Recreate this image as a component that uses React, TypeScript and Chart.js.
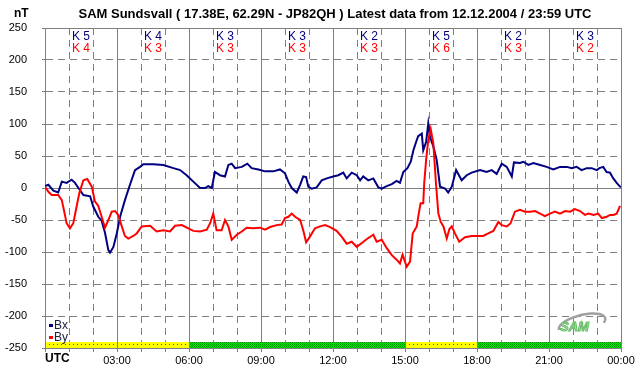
import React, { useEffect, useRef } from "react";
import { Chart, registerables } from "chart.js";

Chart.register(...registerables);

const TITLE = "SAM Sundsvall ( 17.38E, 62.29N - JP82QH ) Latest data from 12.12.2004 / 23:59 UTC";

const bxHours = [0, 0.14, 0.35, 0.55, 0.7, 0.9, 1.11, 1.25, 1.43, 1.6, 1.88, 2.01, 2.22, 2.36, 2.5, 2.64, 2.71, 2.85, 2.99, 3.13, 3.33, 3.54, 3.75, 3.96, 4.1, 4.51, 4.93, 5.35, 5.63, 5.9, 6.18, 6.46, 6.67, 6.8, 6.95, 7.08, 7.29, 7.5, 7.64, 7.78, 7.92, 8.2, 8.43, 8.61, 8.89, 9.17, 9.51, 9.79, 10.0, 10.14, 10.28, 10.49, 10.63, 10.76, 10.88, 10.97, 11.11, 11.32, 11.53, 11.74, 12.01, 12.22, 12.43, 12.57, 12.78, 12.99, 13.13, 13.26, 13.47, 13.68, 13.89, 14.03, 14.24, 14.45, 14.65, 14.79, 14.93, 15.1, 15.24, 15.35, 15.49, 15.55, 15.7, 15.76, 15.88, 15.97, 16.04, 16.18, 16.32, 16.46, 16.67, 16.8, 16.95, 17.13, 17.36, 17.57, 17.78, 18.13, 18.4, 18.61, 18.82, 19.03, 19.24, 19.45, 19.54, 19.79, 19.93, 20.14, 20.35, 20.63, 20.9, 21.18, 21.46, 21.74, 21.95, 22.15, 22.36, 22.57, 22.78, 22.99, 23.1, 23.26, 23.4, 23.54, 23.68, 23.82, 23.99];
const bxValues = [3, 5, -4, -7, 10, 8, 13, 8, -2, -11, -13, -29, -45, -51, -70, -97, -101, -92, -71, -45, -19, 5, 28, 33, 37, 37, 36, 31, 28, 20, 10, 0, 0, 3, 0, 25, 20, 18, 36, 38, 31, 33, 38, 31, 29, 26, 26, 29, 23, 10, 0, -7, 5, 18, 17, 2, -1, 1, 12, 15, 18, 20, 24, 15, 24, 20, 12, 18, 12, 15, 1, -1, 3, 6, 11, 8, 25, 31, 41, 59, 75, 81, 85, 59, 72, 101, 80, 65, 44, 2, -1, -7, 2, 28, 12, 20, 24, 28, 25, 28, 22, 38, 33, 18, 40, 39, 41, 36, 39, 36, 33, 29, 33, 33, 31, 33, 28, 31, 31, 28, 31, 33, 25, 24, 15, 8, 1];

const byHours = [0, 0.14, 0.28, 0.55, 0.7, 0.83, 0.9, 1.04, 1.18, 1.29, 1.43, 1.6, 1.76, 1.95, 2.08, 2.22, 2.36, 2.5, 2.64, 2.78, 2.92, 3.05, 3.2, 3.33, 3.47, 3.68, 3.82, 4.03, 4.38, 4.65, 4.93, 5.21, 5.42, 5.7, 5.97, 6.18, 6.46, 6.74, 6.88, 7.01, 7.15, 7.36, 7.5, 7.64, 7.78, 7.99, 8.2, 8.4, 8.68, 8.96, 9.17, 9.38, 9.65, 9.86, 10.0, 10.14, 10.28, 10.42, 10.63, 10.76, 10.88, 11.04, 11.25, 11.46, 11.67, 11.88, 12.15, 12.36, 12.57, 12.78, 12.99, 13.2, 13.4, 13.68, 13.82, 14.03, 14.24, 14.45, 14.65, 14.79, 14.9, 15.07, 15.21, 15.32, 15.49, 15.55, 15.65, 15.76, 15.8, 15.88, 15.97, 16.07, 16.18, 16.29, 16.39, 16.49, 16.6, 16.74, 16.85, 16.95, 17.08, 17.26, 17.5, 17.78, 18.26, 18.47, 18.68, 18.89, 19.03, 19.24, 19.4, 19.58, 19.79, 20.0, 20.21, 20.42, 20.63, 20.83, 21.04, 21.25, 21.46, 21.67, 21.88, 22.08, 22.29, 22.5, 22.64, 22.86, 23.05, 23.2, 23.4, 23.54, 23.68, 23.82, 23.96];
const byValues = [2, -6, -11, -11, -19, -42, -55, -63, -55, -34, -8, 12, 14, 2, -21, -28, -45, -62, -50, -37, -36, -42, -60, -75, -79, -75, -71, -60, -59, -68, -66, -68, -59, -58, -63, -67, -68, -65, -55, -40, -66, -66, -50, -60, -81, -73, -68, -62, -63, -62, -65, -61, -58, -57, -47, -45, -40, -45, -50, -66, -85, -76, -63, -60, -58, -61, -67, -76, -87, -84, -92, -86, -80, -73, -84, -81, -94, -105, -112, -118, -104, -123, -115, -71, -60, -45, -24, -24, 7, 44, 75, 92, 70, 7, -40, -53, -60, -79, -64, -60, -71, -84, -77, -75, -75, -71, -67, -53, -58, -60, -55, -37, -34, -37, -37, -36, -40, -44, -40, -37, -40, -36, -37, -33, -36, -42, -40, -42, -40, -47, -45, -42, -42, -40, -28];

// K indices per 3-hour block: Bx (blue) and By (red)
const kBx = [5, 4, 3, 3, 2, 5, 2, 3];
const kBy = [4, 3, 3, 3, 3, 6, 3, 2];

const FONT = "'Liberation Sans', Arial, sans-serif";
const GRID = "#808080";
const BLUE = "#000080";
const RED = "#ff0000";

function makePattern(ctx: CanvasRenderingContext2D, kind: "yellow" | "green") {
  const c = document.createElement("canvas");
  if (kind === "green") {
    c.width = 2; c.height = 2;
    const g = c.getContext("2d")!;
    g.fillStyle = "#00ee00"; g.fillRect(0, 0, 2, 2);
    g.fillStyle = "#009000"; g.fillRect(0, 0, 1, 1); g.fillRect(1, 1, 1, 1);
  } else {
    c.width = 4; c.height = 6;
    const g = c.getContext("2d")!;
    g.fillStyle = "#ffff00"; g.fillRect(0, 0, 4, 6);
    g.fillStyle = "#ff0000"; g.fillRect(1, 2, 1, 1);
  }
  return ctx.createPattern(c, "repeat")!;
}

const decorPlugin = {
  id: "decor",
  afterDraw(chart: any) {
    const { ctx, scales } = chart;
    const xs = scales.x;
    const ys = scales.y;
    const area = chart.chartArea;
    ctx.save();
    // title
    ctx.fillStyle = "#000";
    ctx.font = `bold 13px ${FONT}`;
    ctx.textBaseline = "middle";
    ctx.textAlign = "center";
    ctx.fillText(TITLE, 335, 14);
    ctx.textAlign = "left";
    ctx.font = `bold 12px ${FONT}`;
    ctx.fillText("nT", 14, 14);
    // UTC label
    ctx.fillText("UTC", area.left, 359);
    // K labels
    ctx.font = `12px ${FONT}`;
    ctx.textAlign = "center";
    for (let i = 0; i < kBx.length; i++) {
      const x = xs.getPixelForValue(1.5 + 3 * i);
      ctx.fillStyle = BLUE;
      ctx.fillText("K " + kBx[i], x, 37);
      ctx.fillStyle = RED;
      ctx.fillText("K " + kBy[i], x, 49);
    }
    // activity bar
    const yb = ys.getPixelForValue(-250);
    for (let i = 0; i < kBx.length; i++) {
      const x0 = xs.getPixelForValue(3 * i);
      const x1 = xs.getPixelForValue(3 * i + 3);
      const storm = Math.max(kBx[i], kBy[i]) >= 4;
      ctx.fillStyle = makePattern(ctx, storm ? "yellow" : "green");
      ctx.fillRect(x0 + 1, yb - 6, x1 - x0 - 1, 6);
    }
    // legend
    ctx.textAlign = "left";
    ctx.font = `12px ${FONT}`;
    ctx.fillStyle = BLUE;
    ctx.fillRect(49, 324, 4, 3);
    ctx.fillStyle = RED;
    ctx.fillRect(49, 336, 4, 3);
    ctx.fillStyle = "#202040";
    ctx.fillText("Bx", 54, 326);
    ctx.fillText("By", 54, 338);
    // logo
    ctx.strokeStyle = "#a0a0a0";
    ctx.lineWidth = 2.5;
    ctx.beginPath();
    ctx.ellipse(582, 324, 24, 9, -0.25, Math.PI * 0.15, Math.PI * 1.0, true);
    ctx.stroke();
    ctx.font = `italic bold 13px ${FONT}`;
    ctx.fillStyle = "#d0d0d0";
    ctx.strokeStyle = "#60c060";
    ctx.lineWidth = 1;
    ctx.fillText("SAM", 560, 327);
    ctx.strokeText("SAM", 560, 327);
    ctx.restore();
  },
};

export default function App() {
  const ref = useRef<HTMLCanvasElement>(null);
  useEffect(() => {
    const canvas = ref.current!;
    const solidX = (ctx: any) => (ctx.tick && ctx.tick.value % 3 !== 0 ? [7, 5] : []);
    const solidY = (ctx: any) =>
      ctx.tick && ctx.tick.value !== 0 && Math.abs(ctx.tick.value) !== 250 ? [7, 5] : [];
    const chart = new Chart(canvas, {
      type: "line",
      data: {
        datasets: [
          {
            label: "By",
            data: byHours.map((h, i) => ({ x: h, y: byValues[i] })),
            borderColor: RED,
            borderWidth: 2,
            pointRadius: 0,
            fill: false,
            tension: 0,
          },
          {
            label: "Bx",
            data: bxHours.map((h, i) => ({ x: h, y: bxValues[i] })),
            borderColor: BLUE,
            borderWidth: 2,
            pointRadius: 0,
            fill: false,
            tension: 0,
          },
        ],
      },
      options: {
        responsive: false,
        animation: false,
        devicePixelRatio: 1,
        layout: { padding: { top: 28, right: 21, left: 0, bottom: 0 } },
        plugins: { legend: { display: false }, tooltip: { enabled: false }, title: { display: false } },
        scales: {
          x: {
            type: "linear",
            min: 0,
            max: 24,
            afterFit: (s: any) => { s.height = 28; },
            ticks: {
              stepSize: 1,
              autoSkip: false,
              maxRotation: 0,
              padding: 2,
              color: "#000",
              font: { family: FONT, size: 11 },
              callback: (v: any) => {
                const n = Number(v);
                if (n % 3 !== 0 || n === 0) return "";
                return String(n % 24).padStart(2, "0") + ":00";
              },
            },
            grid: { color: GRID, tickColor: GRID, tickLength: 4, lineWidth: 1 },
            border: { color: GRID, dash: solidX },
          },
          y: {
            min: -250,
            max: 250,
            afterFit: (s: any) => { s.width = 45; },
            ticks: {
              stepSize: 50,
              padding: 15,
              color: "#000",
              font: { family: FONT, size: 11 },
            },
            grid: { color: GRID, tickColor: GRID, tickLength: 3, lineWidth: 1 },
            border: { color: GRID, dash: solidY },
          },
        },
      },
      plugins: [decorPlugin],
    });
    return () => chart.destroy();
  }, []);
  return (
    <div style={{ position: "fixed", left: 0, top: 0, background: "#fff" }}>
      <canvas ref={ref} width={642} height={376} />
    </div>
  );
}
